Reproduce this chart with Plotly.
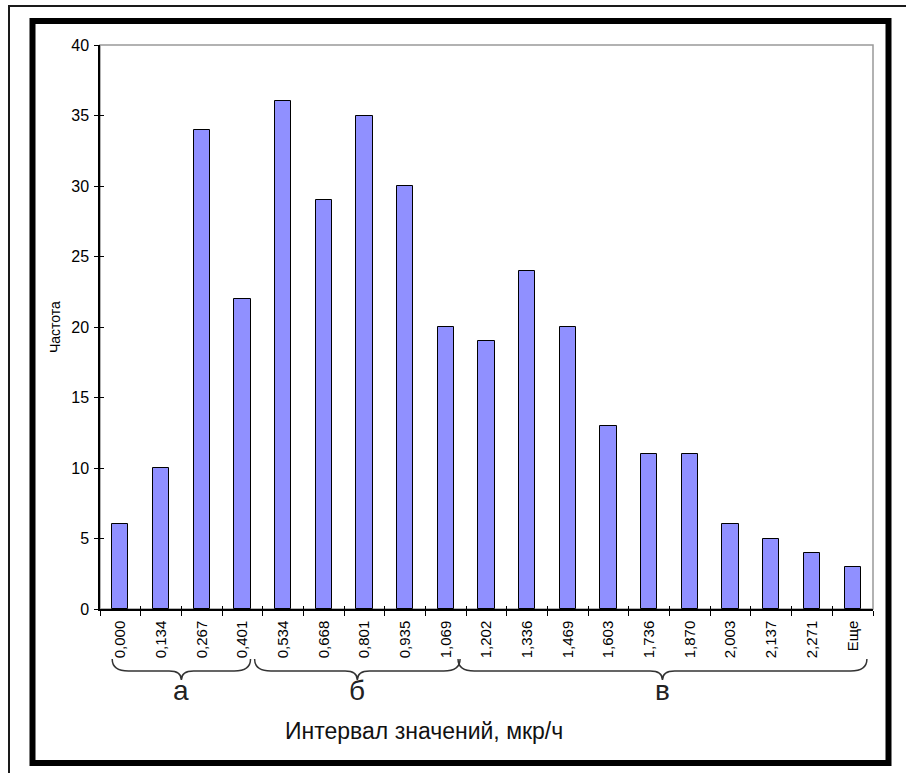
import plotly.graph_objects as go

# ---- data ----
categories = ["0,000", "0,134", "0,267", "0,401", "0,534", "0,668", "0,801", "0,935",
              "1,069", "1,202", "1,336", "1,469", "1,603", "1,736", "1,870", "2,003",
              "2,137", "2,271", "Еще"]
frequency = [6, 10, 34, 22, 36, 29, 35, 30, 20, 19, 24, 20, 13, 11, 11, 6, 5, 4, 3]
group_names = ["а", "б", "в"]
group_first = [0, 4, 9]
group_last = [3, 8, 18]
y_ticks = [0, 5, 10, 15, 20, 25, 30, 35, 40]

# ---- geometry helpers ----
W, H = 906, 773
def px(x):
    return x / W
def py(y):
    return 1 - y / H

n = len(categories)
xs = list(range(n))
bounds = [i - 0.5 for i in range(n + 1)]
FONT = "Liberation Sans, Arial, sans-serif"

fig = go.Figure()
fig.add_trace(go.Bar(
    x=xs, y=frequency, width=0.4,
    marker=dict(color="#9090FF", line=dict(color="black", width=1)),
    hoverinfo="skip", showlegend=False,
))
# invisible trace so the overlay axes (inside tick halves) are drawn
fig.add_trace(go.Scatter(x=[0], y=[0], xaxis="x2", yaxis="y2", mode="markers",
                         marker=dict(opacity=0), hoverinfo="skip", showlegend=False))

xdom = [px(100), px(873)]
ydom = [py(609), py(45)]

fig.update_layout(
    width=W, height=H,
    margin=dict(l=0, r=0, t=0, b=0, pad=0, autoexpand=False),
    paper_bgcolor="white", plot_bgcolor="white",
    font=dict(family=FONT, color="black"),
    bargap=0,
    xaxis=dict(
        domain=xdom, range=[-0.5, n - 0.5], anchor="y", automargin=False,
        tickmode="array", tickvals=xs, ticktext=categories,
        tickangle=-90, ticks="", tickfont=dict(size=15, family=FONT),
        ticklabelstandoff=4,
        showgrid=False, zeroline=False,
        showline=True, linecolor="black", linewidth=1.5,
        minor=dict(tickmode="array", tickvals=bounds, ticks="outside",
                   ticklen=5, tickcolor="black", tickwidth=1, showgrid=False),
        fixedrange=True,
    ),
    xaxis2=dict(
        domain=xdom, range=[-0.5, n - 0.5], overlaying="x", anchor="y2", automargin=False,
        tickmode="array", tickvals=bounds, ticks="inside", ticklen=3,
        tickcolor="black", tickwidth=1, showticklabels=False,
        showgrid=False, zeroline=False, showline=False,
    ),
    yaxis=dict(
        domain=ydom, range=[0, 40], anchor="x", automargin=False,
        tickmode="array", tickvals=y_ticks, ticks="outside", ticklen=4,
        tickcolor="black", tickwidth=1, tickfont=dict(size=16, family=FONT),
        ticklabelstandoff=2,
        showgrid=False, zeroline=False,
        showline=True, linecolor="black", linewidth=1.5,
        fixedrange=True,
    ),
    yaxis2=dict(
        domain=ydom, range=[0, 40], overlaying="y", anchor="x2", automargin=False,
        tickmode="array", tickvals=y_ticks, ticks="inside", ticklen=4,
        tickcolor="black", tickwidth=1, showticklabels=False,
        showgrid=False, zeroline=False, showline=False,
    ),
)

shapes = []
# plot-area border (gray)
shapes.append(dict(type="rect", xref="paper", yref="paper", layer="below",
                   x0=xdom[0], x1=xdom[1], y0=ydom[0], y1=ydom[1],
                   line=dict(color="#999999", width=1.5)))
# thick black frame
shapes.append(dict(type="rect", xref="paper", yref="paper",
                   x0=px(32.5), x1=px(888.5), y0=py(763), y1=py(21),
                   line=dict(color="black", width=6)))
# thin outer frame
shapes.append(dict(type="rect", xref="paper", yref="paper",
                   x0=px(9), x1=px(910), y0=py(780), y1=py(6),
                   line=dict(color="#1a1a1a", width=2)))

# curly braces under the groups
yt, ym, yb = py(659), py(671), py(680)
r_end, r_mid = 0.4, 0.3
annotations = []
for name, a, b in zip(group_names, group_first, group_last):
    x0 = a - 0.2 if a == 0 else a - 0.7
    x1 = b + 0.2 if b == group_last[0] else b + 0.35
    xm = (x0 + x1) / 2
    path = (f"M {x0},{yt} Q {x0},{ym} {x0 + r_end},{ym} "
            f"L {xm - r_mid},{ym} Q {xm},{ym} {xm},{yb} "
            f"Q {xm},{ym} {xm + r_mid},{ym} "
            f"L {x1 - r_end},{ym} Q {x1},{ym} {x1},{yt}")
    shapes.append(dict(type="path", xref="x", yref="paper", path=path,
                       line=dict(color="#333333", width=1.5)))
    annotations.append(dict(text=name, xref="x", yref="paper", x=xm, y=py(690),
                            xanchor="center", yanchor="middle", showarrow=False,
                            font=dict(size=28, family=FONT, color="#222222")))

annotations.append(dict(text="Интервал значений, мкр/ч", xref="paper", yref="paper",
                        x=px(424), y=py(731), xanchor="center", yanchor="middle",
                        showarrow=False, font=dict(size=23, family=FONT, color="#111111")))
annotations.append(dict(text="Частота", xref="paper", yref="paper",
                        x=px(55), y=py(327), xanchor="center", yanchor="middle",
                        textangle=-90, showarrow=False,
                        font=dict(size=14, family=FONT, color="black")))

fig.update_layout(shapes=shapes, annotations=annotations)
fig.write_html("out.html")
